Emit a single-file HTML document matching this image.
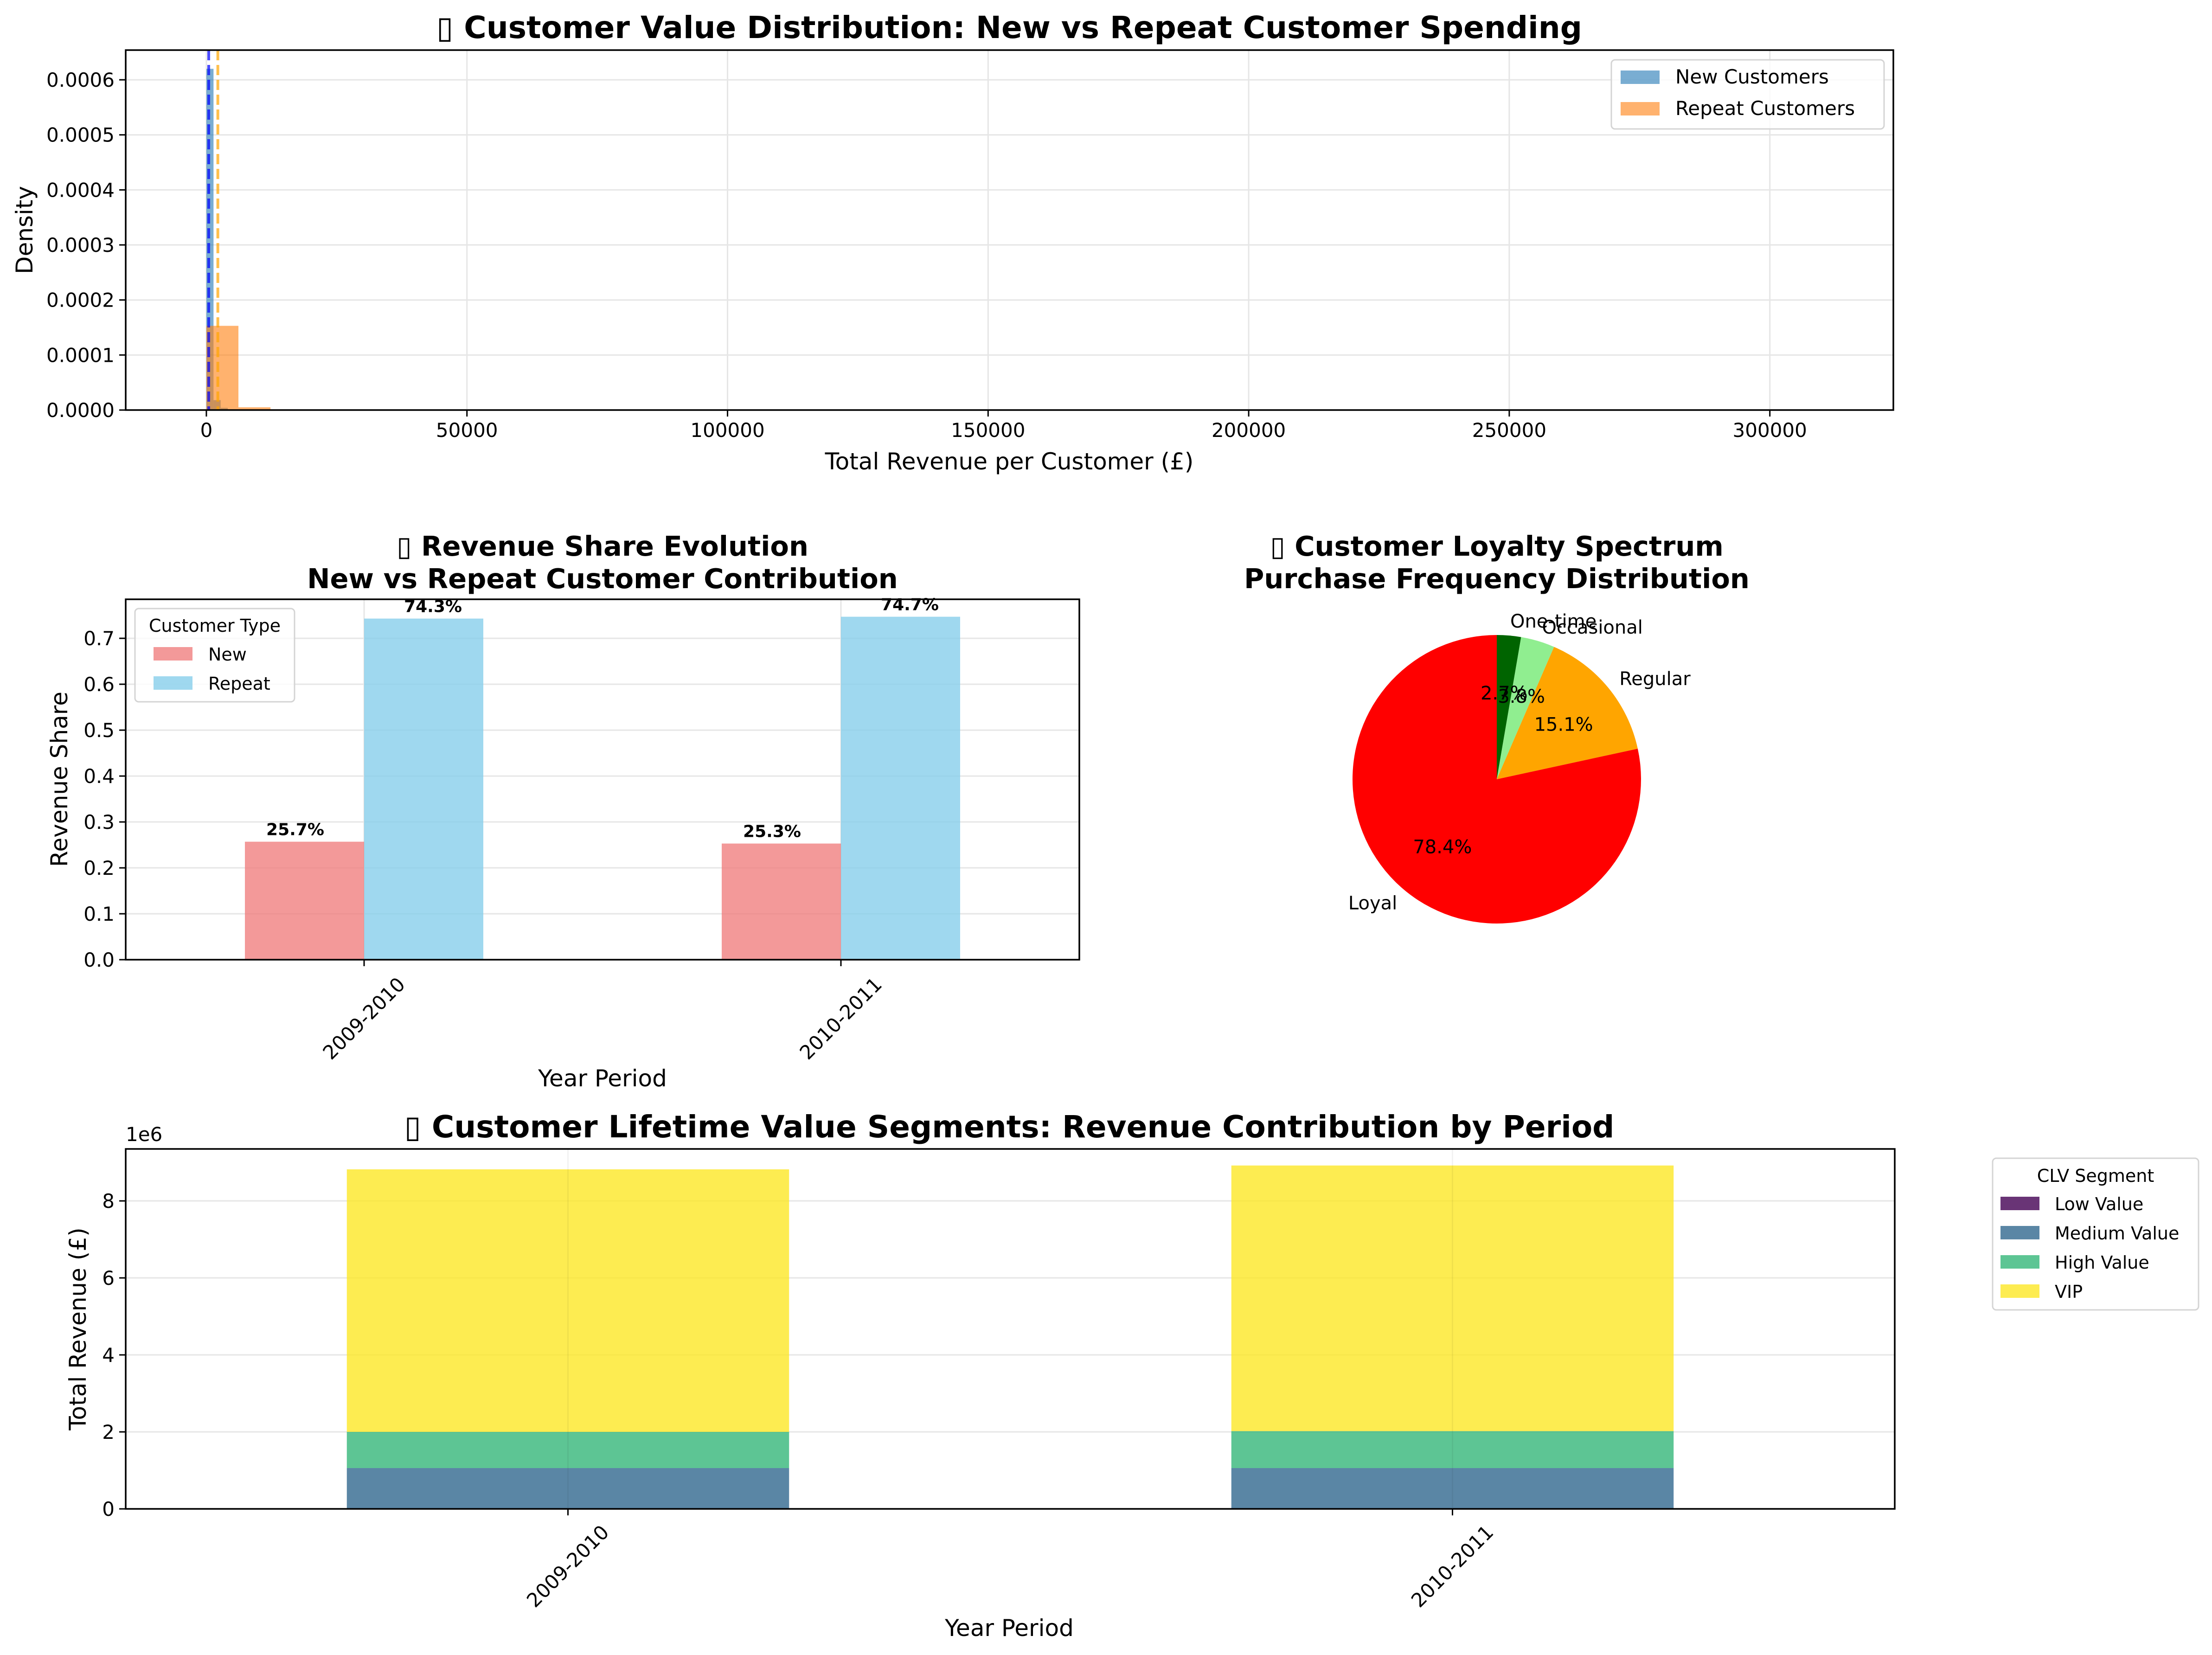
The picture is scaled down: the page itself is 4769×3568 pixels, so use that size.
<!DOCTYPE html>
<html><head><meta charset="utf-8"><style>
html,body{margin:0;padding:0;background:#fff}
svg{display:block;font-family:"DejaVu Sans","Liberation Sans",sans-serif}
</style></head><body>
<svg id="fig" xmlns="http://www.w3.org/2000/svg" width="4769" height="3568" viewBox="0 0 4769 3568"></svg>
<script>
// ---------- data ----------
const histNewEdges = [0, 1370, 2740, 4110];
const histNewDensity = [0.00062, 0.000018, 0.000004];
const histRepEdges = [0, 6150, 12300, 18450];
const histRepDensity = [0.000153, 0.000005, 0.000001];
const meanNew = 450;
const meanRepeat = 2200;
const histXTicks = [0, 50000, 100000, 150000, 200000, 250000, 300000];
const histYTicks = [0, 0.0001, 0.0002, 0.0003, 0.0004, 0.0005, 0.0006];

const sharePeriods = ["2009-2010", "2010-2011"];
const shareNew = [0.257, 0.253];
const shareRepeat = [0.743, 0.747];
const shareYTicks = [0, 0.1, 0.2, 0.3, 0.4, 0.5, 0.6, 0.7];

const loyaltyLabels = ["One-time", "Occasional", "Regular", "Loyal"];
const loyaltyValues = [2.7, 3.8, 15.1, 78.4];
const loyaltyColors = ["#006400", "#90ee90", "#ffa500", "#ff0000"];

const clvPeriods = ["2009-2010", "2010-2011"];
const clvSegments = ["Low Value", "Medium Value", "High Value", "VIP"];
const clvLow = [0.01, 0.01];
const clvMedium = [1.05, 1.05];
const clvHigh = [0.94, 0.96];
const clvVIP = [6.82, 6.90];
const clvYTicks = [0, 2, 4, 6, 8];
const clvColors = ["#440154", "#31688e", "#35b779", "#fde725"];

// ---------- helpers ----------
const NS = "http://www.w3.org/2000/svg";
const svg = document.getElementById("fig");
function el(tag, attrs, parent, text) {
  const e = document.createElementNS(NS, tag);
  for (const k in attrs) e.setAttribute(k, attrs[k]);
  if (text !== undefined) e.textContent = text;
  (parent || svg).appendChild(e);
  return e;
}
function grp(name) {
  const g = el("g", {});
  
  
  return g;
}
function fmt(v, d) { return v.toFixed(d); }
const TICK = 42, AXT = 50;

// ---------- Panel 1: histogram ----------
(function () {
  const L = 271, R = 4082, T = 108, B = 884;
  const xmin = -15480, xmax = 323700, ymax = 0.000654;
  const X = v => L + (v - xmin) / (xmax - xmin) * (R - L);
  const Y = v => B - v / ymax * (B - T);
  const g = grp("histogram-panel");
  histXTicks.forEach(t => {
    el("line", {x1: X(t), x2: X(t), y1: T, y2: B, stroke: "#e6e6e6", "stroke-width": 3}, g);
    el("line", {x1: X(t), x2: X(t), y1: B, y2: B + 14, stroke: "#000", "stroke-width": 3}, g);
    const tl = el("text", {x: X(t), y: B + 58, "font-size": TICK, "text-anchor": "middle"}, g, String(t));
    
    
  });
  histYTicks.forEach(t => {
    el("line", {x1: L, x2: R, y1: Y(t), y2: Y(t), stroke: "#e6e6e6", "stroke-width": 3}, g);
    el("line", {x1: L - 14, x2: L, y1: Y(t), y2: Y(t), stroke: "#000", "stroke-width": 3}, g);
    const tl = el("text", {x: L - 24, y: Y(t) + 15, "font-size": TICK, "text-anchor": "end"}, g, fmt(t, 4));
    
    
  });
  histNewDensity.forEach((d, i) => {
    const r = el("rect", {x: X(histNewEdges[i]), y: Y(d), width: X(histNewEdges[i + 1]) - X(histNewEdges[i]), height: B - Y(d), fill: "#1f77b4", "fill-opacity": 0.6}, g);
    
    
  });
  histRepDensity.forEach((d, i) => {
    const r = el("rect", {x: X(histRepEdges[i]), y: Y(d), width: X(histRepEdges[i + 1]) - X(histRepEdges[i]), height: B - Y(d), fill: "#ff7f0e", "fill-opacity": 0.6}, g);
    
    
  });
  const m1 = el("line", {x1: X(meanNew), x2: X(meanNew), y1: T, y2: B, stroke: "#0000ff", "stroke-opacity": 0.7, "stroke-width": 6, "stroke-dasharray": "22,10"}, g);
  
  
  const m2 = el("line", {x1: X(meanRepeat), x2: X(meanRepeat), y1: T, y2: B, stroke: "#ffa500", "stroke-opacity": 0.7, "stroke-width": 6, "stroke-dasharray": "22,10"}, g);
  
  
  el("rect", {x: L, y: T, width: R - L, height: B - T, fill: "none", stroke: "#000", "stroke-width": 3.5}, g);
  const lg = el("g", {}, g);
  
  
  el("rect", {x: 3474, y: 129, width: 588, height: 149, rx: 8, fill: "#fff", "fill-opacity": 0.8, stroke: "#d4d4d4", "stroke-width": 3}, lg);
  el("rect", {x: 3494, y: 152, width: 84, height: 29, fill: "#1f77b4", "fill-opacity": 0.6}, lg);
  el("rect", {x: 3494, y: 220, width: 84, height: 29, fill: "#ff7f0e", "fill-opacity": 0.6}, lg);
  el("text", {x: 3612, y: 180, "font-size": 42}, lg, "New Customers");
  el("text", {x: 3612, y: 248, "font-size": 42}, lg, "Repeat Customers");
  const t = el("text", {x: 2176, y: 82, "font-size": 66, "font-weight": "bold", "text-anchor": "middle"}, g, "\u25AF Customer Value Distribution: New vs Repeat Customer Spending");
  
  
  const xl = el("text", {x: 2176, y: 1012, "font-size": AXT, "text-anchor": "middle"}, g, "Total Revenue per Customer (£)");
  
  
  const yl = el("text", {x: 0, y: 0, "font-size": AXT, "text-anchor": "middle", transform: "translate(70,496) rotate(-90)"}, g, "Density");
  
  
})();

// ---------- Panel 2: revenue share bars ----------
(function () {
  const L = 271, R = 2327, T = 1292, B = 2069;
  const ymax = 0.785;
  const X = v => L + (v + 0.5) / 2 * (R - L);
  const Y = v => B - v / ymax * (B - T);
  const w = 0.25;
  const g = grp("revenue-share-panel");
  shareYTicks.forEach(t => {
    el("line", {x1: L, x2: R, y1: Y(t), y2: Y(t), stroke: "#e6e6e6", "stroke-width": 3}, g);
    el("line", {x1: L - 14, x2: L, y1: Y(t), y2: Y(t), stroke: "#000", "stroke-width": 3}, g);
    const tl = el("text", {x: L - 24, y: Y(t) + 15, "font-size": TICK, "text-anchor": "end"}, g, fmt(t, 1));
    
    
  });
  sharePeriods.forEach((p, i) => {
    el("line", {x1: X(i), x2: X(i), y1: T, y2: B, stroke: "#e6e6e6", "stroke-width": 3}, g);
  });
  sharePeriods.forEach((p, i) => {
    const a = el("rect", {x: X(i - w), y: Y(shareNew[i]), width: X(i) - X(i - w), height: B - Y(shareNew[i]), fill: "#f08080", "fill-opacity": 0.8}, g);
    
    
    const b = el("rect", {x: X(i), y: Y(shareRepeat[i]), width: X(i + w) - X(i), height: B - Y(shareRepeat[i]), fill: "#87ceeb", "fill-opacity": 0.8}, g);
    
    
    el("text", {x: X(i - w / 2) - 20, y: Y(shareNew[i]) - 14, "font-size": 36, "font-weight": "bold", "text-anchor": "middle"}, g, fmt(shareNew[i] * 100, 1) + "%");
    el("text", {x: X(i + w / 2) + 20, y: Y(shareRepeat[i]) - 14, "font-size": 36, "font-weight": "bold", "text-anchor": "middle"}, g, fmt(shareRepeat[i] * 100, 1) + "%");
    el("line", {x1: X(i), x2: X(i), y1: B, y2: B + 14, stroke: "#000", "stroke-width": 3}, g);
    const tl = el("text", {x: 0, y: 14, "font-size": TICK, "text-anchor": "middle", transform: `translate(${X(i)},${B + 127}) rotate(-45)`}, g, p);
    
    
  });
  el("rect", {x: L, y: T, width: R - L, height: B - T, fill: "none", stroke: "#000", "stroke-width": 3.5}, g);
  const lg = el("g", {}, g);
  
  
  el("rect", {x: 291, y: 1312, width: 344, height: 201, rx: 8, fill: "#fff", "fill-opacity": 0.8, stroke: "#d4d4d4", "stroke-width": 3}, lg);
  el("text", {x: 463, y: 1362, "font-size": 38, "text-anchor": "middle"}, lg, "Customer Type");
  el("rect", {x: 331, y: 1395, width: 84, height: 29, fill: "#f08080", "fill-opacity": 0.8}, lg);
  el("rect", {x: 331, y: 1458, width: 84, height: 29, fill: "#87ceeb", "fill-opacity": 0.8}, lg);
  el("text", {x: 449, y: 1424, "font-size": 38}, lg, "New");
  el("text", {x: 449, y: 1487, "font-size": 38}, lg, "Repeat");
  const t = el("text", {x: 1299, y: 1198, "font-size": 59, "font-weight": "bold", "text-anchor": "middle"}, g);
  
  
  el("tspan", {x: 1299, dy: 0}, t, "\u25AF Revenue Share Evolution");
  el("tspan", {x: 1299, dy: 70}, t, "New vs Repeat Customer Contribution");
  const xl = el("text", {x: 1299, y: 2342, "font-size": AXT, "text-anchor": "middle"}, g, "Year Period");
  
  
  const yl = el("text", {x: 0, y: 0, "font-size": AXT, "text-anchor": "middle", transform: "translate(145,1680) rotate(-90)"}, g, "Revenue Share");
  
  
})();

// ---------- Panel 3: pie ----------
(function () {
  const cx = 3227, cy = 1680, r = 311;
  const g = grp("loyalty-pie-panel");
  const total = loyaltyValues.reduce((a, b) => a + b, 0);
  let ang = 90;
  const texts = [];
  loyaltyValues.forEach((v, i) => {
    const sweep = v / total * 360;
    const a0 = ang * Math.PI / 180, a1 = (ang - sweep) * Math.PI / 180;
    const x0 = cx + r * Math.cos(a0), y0 = cy - r * Math.sin(a0);
    const x1 = cx + r * Math.cos(a1), y1 = cy - r * Math.sin(a1);
    const large = sweep > 180 ? 1 : 0;
    const p = el("path", {d: `M${cx},${cy} L${x0},${y0} A${r},${r} 0 ${large} 1 ${x1},${y1} Z`, fill: loyaltyColors[i]}, g);
    
    
    texts.push({mid: (ang - sweep / 2) * Math.PI / 180, v: v, label: loyaltyLabels[i]});
    ang -= sweep;
  });
  texts.forEach(o => {
    const lx = cx + 1.1 * r * Math.cos(o.mid), ly = cy - 1.1 * r * Math.sin(o.mid);
    const anchor = Math.cos(o.mid) >= 0 ? "start" : "end";
    const lt = el("text", {x: lx, y: ly + 14, "font-size": 40, "text-anchor": anchor}, g, o.label);
    
    
    const px = cx + 0.6 * r * Math.cos(o.mid), py = cy - 0.6 * r * Math.sin(o.mid);
    const pt = el("text", {x: px, y: py + 14, "font-size": 40, "text-anchor": "middle"}, g, fmt(o.v, 1) + "%");
    
    
  });
  const t = el("text", {x: 3227, y: 1198, "font-size": 59, "font-weight": "bold", "text-anchor": "middle"}, g);
  
  
  el("tspan", {x: 3227, dy: 0}, t, "\u25AF Customer Loyalty Spectrum");
  el("tspan", {x: 3227, dy: 70}, t, "Purchase Frequency Distribution");
})();

// ---------- Panel 4: CLV stacked bars ----------
(function () {
  const L = 271, R = 4085, T = 2477, B = 3253;
  const ymax = 9.35;
  const X = v => L + (v + 0.5) / 2 * (R - L);
  const Y = v => B - v / ymax * (B - T);
  const w = 0.5;
  const g = grp("clv-segments-panel");
  clvYTicks.forEach(t => {
    el("line", {x1: L, x2: R, y1: Y(t), y2: Y(t), stroke: "#e6e6e6", "stroke-width": 3}, g);
    el("line", {x1: L - 14, x2: L, y1: Y(t), y2: Y(t), stroke: "#000", "stroke-width": 3}, g);
    const tl = el("text", {x: L - 24, y: Y(t) + 15, "font-size": TICK, "text-anchor": "end"}, g, String(t));
    
    
  });
  const series = [clvLow, clvMedium, clvHigh, clvVIP];
  clvPeriods.forEach((p, i) => {
    let base = 0;
    series.forEach((s, k) => {
      const r = el("rect", {x: X(i - w / 2), y: Y(base + s[i]), width: X(i + w / 2) - X(i - w / 2), height: Y(base) - Y(base + s[i]), fill: clvColors[k], "fill-opacity": 0.8}, g);
      
      
      base += s[i];
    });
    el("line", {x1: X(i), x2: X(i), y1: T, y2: B, stroke: "#000", "stroke-opacity": 0.05, "stroke-width": 3}, g);
    el("line", {x1: X(i), x2: X(i), y1: B, y2: B + 14, stroke: "#000", "stroke-width": 3}, g);
    const tl = el("text", {x: 0, y: 14, "font-size": TICK, "text-anchor": "middle", transform: `translate(${X(i)},${B + 124}) rotate(-45)`}, g, p);
    
    
  });
  el("rect", {x: L, y: T, width: R - L, height: B - T, fill: "none", stroke: "#000", "stroke-width": 3.5}, g);
  el("text", {x: 271, y: 2460, "font-size": 42}, g, "1e6");
  const lg = el("g", {}, g);
  
  
  el("rect", {x: 4296, y: 2497, width: 444, height: 327, rx: 8, fill: "#fff", stroke: "#d4d4d4", "stroke-width": 3}, lg);
  el("text", {x: 4518, y: 2548, "font-size": 38, "text-anchor": "middle"}, lg, "CLV Segment");
  clvSegments.forEach((s, k) => {
    el("rect", {x: 4313, y: 2580 + k * 63, width: 84, height: 29, fill: clvColors[k], "fill-opacity": 0.8}, lg);
    el("text", {x: 4430, y: 2609 + k * 63, "font-size": 38}, lg, s);
  });
  const t = el("text", {x: 2176, y: 2452, "font-size": 66, "font-weight": "bold", "text-anchor": "middle"}, g, "\u25AF Customer Lifetime Value Segments: Revenue Contribution by Period");
  
  
  const xl = el("text", {x: 2176, y: 3527, "font-size": AXT, "text-anchor": "middle"}, g, "Year Period");
  
  
  const yl = el("text", {x: 0, y: 0, "font-size": AXT, "text-anchor": "middle", transform: "translate(185,2865) rotate(-90)"}, g, "Total Revenue (£)");
  
  
})();
</script>
</body></html>
